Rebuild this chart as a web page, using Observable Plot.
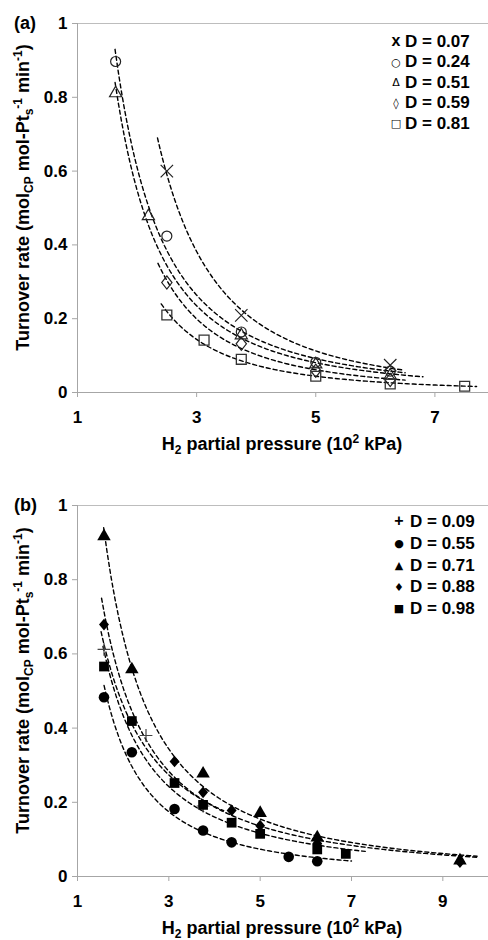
<!DOCTYPE html>
<html><head><meta charset="utf-8">
<script src="https://cdn.jsdelivr.net/npm/d3@7"></script>
<script src="https://cdn.jsdelivr.net/npm/@observablehq/plot@0.6"></script>
<style>
body{margin:0;background:#fff;}
#wrap{position:relative;width:488px;height:940px;overflow:hidden;font-family:"Liberation Sans",Arial,sans-serif;}
#wrap svg{position:absolute;left:0;}
</style></head><body><div id="wrap"></div>
<script>
// ---------- shared ticks ----------
const yTicks = [0, 0.2, 0.4, 0.6, 0.8, 1];
const aXTicks = [1, 3, 5, 7];
const bXTicks = [1, 3, 5, 7, 9];

// ---------- panel (a) data ----------
const aLabels = ["D = 0.07", "D = 0.24", "D = 0.51", "D = 0.59", "D = 0.81"];
const aLegendSymbols = ["x", "○", "Δ", "◊", "□"];
const aX07 = [2.5, 3.75, 6.25];            const aY07 = [0.60, 0.209, 0.074];
const aX24 = [1.64, 2.5, 3.75, 5, 6.25];   const aY24 = [0.897, 0.424, 0.164, 0.082, 0.058];
const aX51 = [1.64, 2.19, 3.75, 5, 6.25];  const aY51 = [0.811, 0.478, 0.155, 0.076, 0.046];
const aX59 = [2.5, 3.75, 5, 6.25];         const aY59 = [0.298, 0.132, 0.059, 0.034];
const aX81 = [2.5, 3.125, 3.75, 5, 6.25, 7.5]; const aY81 = [0.21, 0.142, 0.09, 0.044, 0.023, 0.017];
// trendline extent: value at its upper-left end, and x at its right end
const aTrendTopY = [0.69, 0.93, 0.84, 0.35, 0.24];
const aTrendEnd  = [6.45, 6.5, 6.8, 6.5, 7.7];

// ---------- panel (b) data ----------
const bLabels = ["D = 0.09", "D = 0.55", "D = 0.71", "D = 0.88", "D = 0.98"];
const bLegendSymbols = ["+", "●", "▲", "♦", "■"];
const bX09 = [1.58, 2.5, 3.75];            const bY09 = [0.612, 0.38, 0.19];
const bX55 = [1.58, 2.19, 3.125, 3.75, 4.375, 5.625, 6.25]; const bY55 = [0.483, 0.335, 0.182, 0.124, 0.092, 0.053, 0.041];
const bX71 = [1.58, 2.19, 3.75, 5, 6.25, 9.375];            const bY71 = [0.917, 0.558, 0.277, 0.171, 0.105, 0.043];
const bX88 = [1.58, 3.125, 3.75, 4.375, 5, 6.25, 9.375];    const bY88 = [0.679, 0.31, 0.227, 0.178, 0.137, 0.089, 0.039];
const bX98 = [1.58, 2.19, 3.125, 3.75, 4.375, 5, 6.25, 6.875]; const bY98 = [0.566, 0.419, 0.252, 0.193, 0.145, 0.115, 0.073, 0.061];
const bTrendTopY = [0.66, 0.515, 0.94, 0.75, 0.62];
const bTrendEnd  = [4.2, 7.0, 9.75, 9.75, 7.3];

// ---------- helpers ----------
function pts(xs, ys) { return xs.map((x, i) => ({x, y: ys[i]})); }
// Power-law trendline y = a·x^b fitted to the series (weighted least squares, weight 1/y)
function powerTrend(xs, ys, topY, x1) {
  let best = null;
  for (let b = -4; b <= -0.3; b += 0.005) {
    const a = d3.sum(xs, (x, i) => Math.pow(x, b)) / d3.sum(xs, (x, i) => Math.pow(x, 2 * b) / ys[i]);
    const err = d3.sum(xs, (x, i) => (ys[i] - a * Math.pow(x, b)) ** 2 / ys[i]);
    if (!best || err < best.err) best = {a, b, err};
  }
  const {a, b} = best;
  const x0 = Math.pow(topY / a, 1 / b);
  return d3.range(0, 101).map(i => { const x = x0 + (x1 - x0) * i / 100; return {x, y: a * Math.pow(x, b)}; });
}
const diamondOpen = {draw(ctx, size) { const r = Math.sqrt(size) * 0.62; ctx.moveTo(0, -r); ctx.lineTo(r * 0.78, 0); ctx.lineTo(0, r); ctx.lineTo(-r * 0.78, 0); ctx.closePath(); }};
const diamondFill = {draw(ctx, size) { const r = Math.sqrt(size) * 0.66; ctx.moveTo(0, -r); ctx.lineTo(r * 0.85, 0); ctx.lineTo(0, r); ctx.lineTo(-r * 0.85, 0); ctx.closePath(); }};

const aStyles = [
  {symbol: "times", r: 5.7, stroke: "#222", fill: "none", sw: 1.2},
  {symbol: "circle", r: 5, stroke: "#222", fill: "none", sw: 1.2},
  {symbol: "triangle2", r: 5.8, stroke: "#222", fill: "none", sw: 1.2},
  {symbol: diamondOpen, r: 6, stroke: "#222", fill: "none", sw: 1.2},
  {symbol: "square2", r: 6.3, stroke: "#333", fill: "none", sw: 1.3}
];
const bStyles = [
  {symbol: "plus", r: 4.2, stroke: "#444", fill: "none", sw: 1.2},
  {symbol: "circle", r: 5.3, stroke: "none", fill: "black", sw: 0},
  {symbol: "triangle", r: 5, stroke: "none", fill: "black", sw: 0},
  {symbol: diamondFill, r: 5, stroke: "none", fill: "black", sw: 0},
  {symbol: "square", r: 5.5, stroke: "none", fill: "black", sw: 0}
];

const aSeries = [[aX07, aY07], [aX24, aY24], [aX51, aY51], [aX59, aY59], [aX81, aY81]].map(([xs, ys], i) => ({
  points: pts(xs, ys), curve: powerTrend(xs, ys, aTrendTopY[i], aTrendEnd[i]), ...aStyles[i]
}));
const bSeries = [[bX09, bY09], [bX55, bY55], [bX71, bY71], [bX88, bY88], [bX98, bY98]].map(([xs, ys], i) => ({
  points: pts(xs, ys), curve: powerTrend(xs, ys, bTrendTopY[i], bTrendEnd[i]), ...bStyles[i]
}));

function panel({xDomain, xTicks, series, marginTop, marginBottom, tag, legendSymbols, legendLabels, legendY0, legendStep, symX, textX}) {
  const H = 470;
  const marks = [
    Plot.ruleY([1], {stroke: "#bdbdbd", strokeWidth: 1}),
    Plot.ruleY([0], {stroke: "#a6a6a6", strokeWidth: 1}),
    Plot.ruleX([xDomain[0]], {stroke: "#a6a6a6", strokeWidth: 1}),
    Plot.axisX({ticks: xTicks, tickSize: 5, tickPadding: 13, tickFormat: d => String(d), label: null, stroke: "#a6a6a6", fill: "black"}),
    Plot.axisY({ticks: yTicks, tickSize: 5, tickPadding: 5, tickFormat: d => String(d), label: null, stroke: "#a6a6a6", fill: "black"})
  ];
  for (const s of series) marks.push(Plot.line(s.curve, {x: "x", y: "y", stroke: "black", strokeWidth: 1.4, strokeDasharray: "4,3"}));
  for (const s of series) marks.push(Plot.dot(s.points, {x: "x", y: "y", symbol: s.symbol, r: s.r, stroke: s.stroke, fill: s.fill, strokeWidth: s.sw}));
  const svg = Plot.plot({
    width: 488, height: H, marginLeft: 77, marginRight: 0, marginTop, marginBottom,
    x: {domain: xDomain}, y: {domain: [0, 1]},
    style: {fontFamily: "'Liberation Sans', Arial, sans-serif", fontSize: "17px", fontWeight: "bold", color: "black", background: "white"},
    marks
  });
  const s = d3.select(svg);
  const axisY0 = H - marginBottom;
  // panel tag
  s.append("text").attr("x", 14).attr("y", marginTop).attr("dy", "0.36em").attr("text-anchor", "start")
    .style("font-size", "18px").text(tag);
  // x label
  const xl = s.append("text").attr("x", 282).attr("y", axisY0 + 52).attr("dy", "0.36em").attr("text-anchor", "middle").style("font-size", "18px");
  xl.append("tspan").text("H");
  xl.append("tspan").attr("dy", 4).style("font-size", "12px").text("2");
  xl.append("tspan").attr("dy", -4).text(" partial pressure (10");
  xl.append("tspan").attr("dy", -7).style("font-size", "12px").text("2");
  xl.append("tspan").attr("dy", 7).text(" kPa)");
  // y label
  const yc = (marginTop + axisY0) / 2 - 10;
  const yl = s.append("text").attr("transform", `translate(23,${yc}) rotate(-90)`).attr("dy", "0.36em").attr("text-anchor", "middle").style("font-size", "18px");
  yl.append("tspan").text("Turnover rate (mol");
  yl.append("tspan").attr("dy", 4).style("font-size", "12px").text("CP");
  yl.append("tspan").attr("dy", -4).text(" mol-Pt");
  yl.append("tspan").attr("dy", 4).style("font-size", "12px").text("s");
  yl.append("tspan").attr("dy", -11).style("font-size", "12px").text("-1");
  yl.append("tspan").attr("dy", 7).text(" min");
  yl.append("tspan").attr("dy", -7).style("font-size", "12px").text("-1");
  yl.append("tspan").attr("dy", 7).text(")");
  // legend (text, as in the original)
  legendLabels.forEach((lab, i) => {
    const y = legendY0 + i * legendStep;
    const sym = legendSymbols[i];
    const big = sym === "x" || sym === "+";
    s.append("text").attr("x", symX).attr("y", y).attr("dy", big ? "0.32em" : "0.42em").attr("text-anchor", "middle")
      .style("font-size", big ? "16px" : "11px")
      .style("font-family", big ? "'Liberation Sans', Arial, sans-serif" : "'DejaVu Sans', sans-serif")
      .style("font-weight", big ? "bold" : "normal").text(sym);
    s.append("text").attr("x", textX).attr("y", y).attr("dy", "0.36em").attr("text-anchor", "start").style("font-size", "17px").text(lab);
  });
  return svg;
}

const wrap = document.getElementById("wrap");
const svgA = panel({xDomain: [1, 7.9], xTicks: aXTicks, series: aSeries, marginTop: 23, marginBottom: 78, tag: "(a)",
  legendSymbols: aLegendSymbols, legendLabels: aLabels, legendY0: 40.5, legendStep: 20.5, symX: 396, textX: 405});
svgA.style.top = "0px";
const svgB = panel({xDomain: [1, 10], xTicks: bXTicks, series: bSeries, marginTop: 35, marginBottom: 64, tag: "(b)",
  legendSymbols: bLegendSymbols, legendLabels: bLabels, legendY0: 51, legendStep: 21.7, symX: 399, textX: 410});
svgB.style.top = "470px";
wrap.appendChild(svgA);
wrap.appendChild(svgB);
</script>
</body></html>
